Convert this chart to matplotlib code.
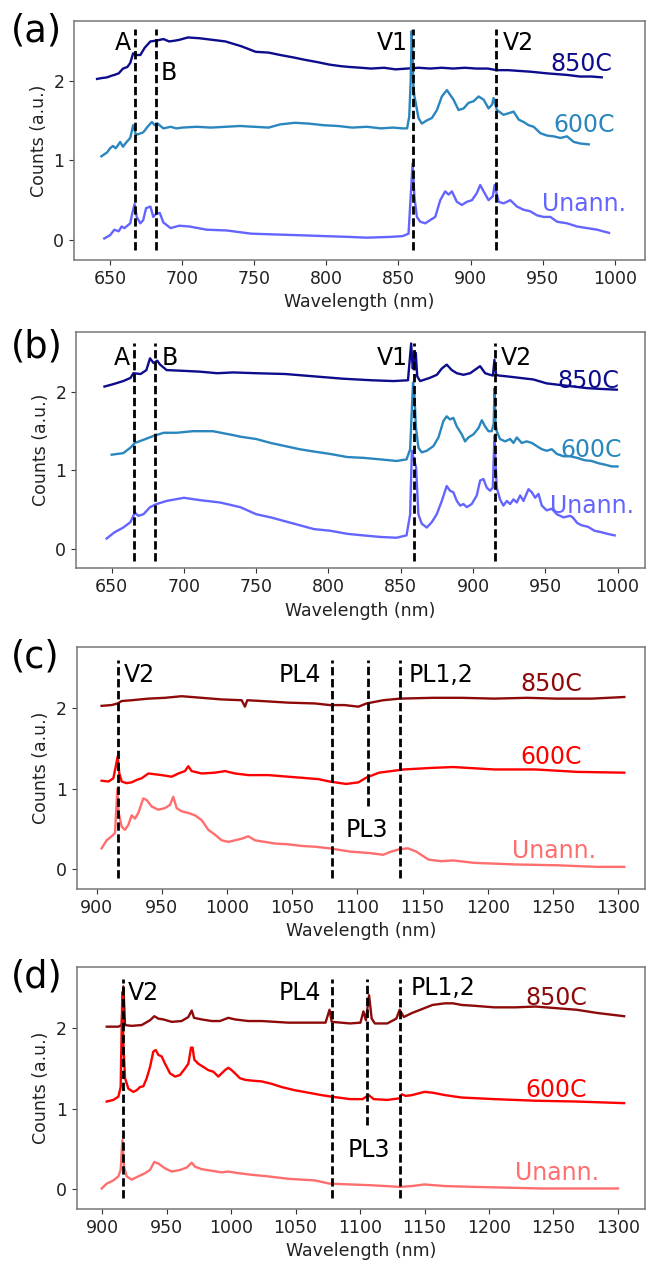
import matplotlib
matplotlib.use("Agg")
import matplotlib.pyplot as plt

# ---- panel (a) -------------------------------------------------------
a_850_x = [641, 644, 648, 651, 653, 656, 659, 662, 664, 666,
           668, 671, 674, 678, 682, 687, 691, 695, 698, 704,
           712, 721, 730, 741, 751, 760, 768, 777, 785, 794,
           802, 810, 816, 824, 831, 840, 848, 856, 864, 872,
           880, 888, 896, 904, 912, 918, 926, 934, 942, 953,
           960, 967, 976, 984, 991]
a_850_y = [2.02, 2.03, 2.04, 2.06, 2.07, 2.09, 2.15, 2.17, 2.22, 2.34,
           2.32, 2.32, 2.41, 2.49, 2.50, 2.52, 2.49, 2.50, 2.51, 2.54,
           2.53, 2.51, 2.49, 2.43, 2.36, 2.35, 2.32, 2.29, 2.26, 2.23,
           2.20, 2.18, 2.17, 2.16, 2.15, 2.16, 2.14, 2.15, 2.16, 2.15,
           2.16, 2.15, 2.16, 2.15, 2.15, 2.13, 2.13, 2.12, 2.11, 2.09,
           2.08, 2.07, 2.05, 2.05, 2.04]
a_600_x = [644, 648, 650, 652, 654, 657, 659, 661, 664, 666,
           668, 670, 673, 676, 679, 681, 683, 687, 692, 696,
           700, 710, 720, 730, 740, 750, 760, 768, 778, 788,
           798, 808, 818, 828, 838, 846, 853, 856, 857.5, 858.5,
           859.2, 860, 860.4, 861.1, 862, 863.9, 866.2, 869.7, 873.2, 876.7,
           880.1, 883.6, 885.9, 888.2, 891.7, 895.2, 898.6, 902.1, 905.6, 909.1,
           912.5, 915, 916, 918.3, 922.9, 926.4, 929.9, 933.4, 936.8, 940.3,
           943.8, 948.4, 953, 957.7, 962.3, 966.9, 971.6, 976.2, 982]
a_600_y = [1.05, 1.10, 1.15, 1.18, 1.15, 1.23, 1.17, 1.22, 1.28, 1.44,
           1.32, 1.33, 1.35, 1.42, 1.48, 1.44, 1.46, 1.40, 1.42, 1.40,
           1.41, 1.42, 1.41, 1.42, 1.43, 1.42, 1.41, 1.45, 1.47, 1.46,
           1.44, 1.43, 1.41, 1.42, 1.40, 1.41, 1.40, 1.40, 1.55, 2.00,
           2.62, 2.20, 1.92, 1.80, 1.72, 1.53, 1.46, 1.50, 1.53, 1.63,
           1.80, 1.88, 1.82, 1.76, 1.63, 1.65, 1.72, 1.74, 1.80, 1.76,
           1.65, 1.70, 1.78, 1.63, 1.57, 1.59, 1.61, 1.51, 1.48, 1.44,
           1.42, 1.34, 1.31, 1.30, 1.28, 1.30, 1.23, 1.21, 1.20]
a_un_x = [646, 650, 653, 656, 658, 660, 664, 665, 667, 668.5,
          671, 673, 675, 678, 680, 682, 684.5, 687, 692, 698,
          705, 717, 731, 748, 765, 782, 798, 815, 828, 845,
          853, 857, 858.1, 859.8, 861.1, 862.8, 865.1, 868.6, 872, 875.5,
          879, 882.4, 884.8, 887.1, 890.5, 894, 897.5, 901, 904.4, 906.7,
          909.1, 912.5, 915.5, 916.7, 919.5, 922.9, 927.6, 932.2, 936.8, 941.5,
          946.1, 950.7, 955.4, 960, 966.9, 973.9, 980.8, 987.8, 996]
a_un_y = [0.02, 0.06, 0.13, 0.11, 0.17, 0.15, 0.21, 0.30, 0.45, 0.29,
          0.21, 0.25, 0.40, 0.42, 0.29, 0.33, 0.34, 0.22, 0.15, 0.18,
          0.17, 0.13, 0.12, 0.08, 0.07, 0.06, 0.05, 0.04, 0.03, 0.04,
          0.05, 0.08, 0.42, 0.96, 0.54, 0.29, 0.23, 0.21, 0.25, 0.29,
          0.50, 0.61, 0.57, 0.61, 0.48, 0.44, 0.48, 0.50, 0.59, 0.69,
          0.61, 0.50, 0.55, 0.69, 0.48, 0.46, 0.50, 0.42, 0.38, 0.36,
          0.31, 0.29, 0.29, 0.23, 0.21, 0.17, 0.15, 0.13, 0.09]
a_lines = [667.6, 682.2, 860.4, 917.6]
a_tags = ["A", "B", "V1", "V2"]
a_tag_x = [659, 691, 846, 933]
a_tag_y = [2.38, 2.01, 2.38, 2.38]
a_name_x = [977, 979, 979]
a_name_y = [2.12, 1.36, 0.37]

# ---- panel (b) -------------------------------------------------------
b_850_x = [645, 651, 658, 663, 665, 670, 674, 676.5, 679, 681.5,
           683.5, 688, 700, 711, 723, 734, 750, 770, 790, 810,
           830, 845, 855, 857.2, 858.3, 859.3, 860.4, 861.4, 863.4, 870,
           875, 878.4, 881.8, 885.3, 888.8, 893.4, 898, 902.6, 904.9, 908.4,
           911.8, 913.8, 914.8, 916, 918, 923.4, 932.6, 941.8, 951, 960.3,
           969.5, 978.7, 988, 999.5]
b_850_y = [2.07, 2.10, 2.14, 2.18, 2.24, 2.23, 2.28, 2.43, 2.37, 2.40,
           2.35, 2.28, 2.27, 2.26, 2.24, 2.25, 2.24, 2.23, 2.20, 2.17,
           2.15, 2.14, 2.15, 2.62, 2.30, 2.40, 2.50, 2.20, 2.14, 2.18,
           2.22, 2.30, 2.35, 2.28, 2.24, 2.22, 2.24, 2.30, 2.33, 2.24,
           2.22, 2.21, 2.41, 2.22, 2.21, 2.20, 2.18, 2.16, 2.11, 2.09,
           2.07, 2.05, 2.04, 2.03]
b_600_x = [650, 658, 663, 666, 672, 679, 686, 695, 706, 720,
           734, 739, 750, 760, 770, 780, 790, 801, 813, 824,
           836, 847, 854, 856.5, 857.5, 858.5, 859.5, 860.5, 862.2, 864.5,
           868, 872.6, 876.1, 879.5, 881.8, 884.1, 886.4, 888.8, 892.2, 894.5,
           896.8, 900.3, 903.8, 906.1, 908.4, 910.7, 913, 914.3, 914.9, 915.6,
           916.4, 918.7, 922.2, 925.7, 928, 930.3, 933.7, 937.2, 940.7, 944.1,
           947.6, 951, 954.5, 958, 962.6, 967.2, 972, 977, 982, 987,
           992, 996, 1000]
b_600_y = [1.20, 1.22, 1.29, 1.35, 1.39, 1.44, 1.48, 1.48, 1.50, 1.50,
           1.45, 1.43, 1.40, 1.35, 1.31, 1.27, 1.24, 1.21, 1.17, 1.16,
           1.14, 1.12, 1.14, 1.27, 1.70, 2.12, 1.95, 1.55, 1.29, 1.23,
           1.25, 1.31, 1.42, 1.63, 1.69, 1.65, 1.67, 1.56, 1.46, 1.37,
           1.42, 1.46, 1.54, 1.64, 1.56, 1.50, 1.50, 1.60, 2.05, 1.60,
           1.50, 1.40, 1.37, 1.40, 1.35, 1.42, 1.35, 1.37, 1.35, 1.31,
           1.27, 1.25, 1.27, 1.21, 1.18, 1.18, 1.16, 1.13, 1.12, 1.09,
           1.07, 1.05, 1.05]
b_un_x = [646.5, 652, 658, 663, 666, 668.4, 672, 676.5, 681, 688,
          700, 711, 725, 739, 750, 760, 770, 780, 790, 801,
          813, 824, 836, 847, 854, 856.5, 857.7, 859, 860.6, 862.2,
          864.5, 868, 871.5, 874.9, 878.4, 881.8, 884.1, 886.4, 888.8, 891.1,
          893.4, 895.7, 899.1, 902.6, 904.9, 907.2, 909.5, 911.8, 913.7, 914.8,
          916.4, 918.7, 921, 923.4, 925.7, 928, 930.3, 932.6, 934.9, 938.4,
          940.7, 943, 945.3, 947.6, 951, 954.5, 958, 962.6, 967.2, 969,
          972, 975, 979.5, 984, 989, 993, 998]
b_un_y = [0.13, 0.21, 0.27, 0.34, 0.46, 0.42, 0.44, 0.53, 0.57, 0.61,
          0.65, 0.62, 0.59, 0.53, 0.44, 0.40, 0.35, 0.30, 0.25, 0.23,
          0.19, 0.17, 0.15, 0.14, 0.17, 0.44, 1.25, 1.15, 1.04, 0.44,
          0.32, 0.27, 0.34, 0.44, 0.61, 0.80, 0.74, 0.72, 0.61, 0.55,
          0.57, 0.53, 0.57, 0.68, 0.87, 0.89, 0.78, 0.74, 0.78, 1.44,
          0.78, 0.63, 0.55, 0.61, 0.57, 0.63, 0.59, 0.68, 0.61, 0.76,
          0.72, 0.65, 0.70, 0.55, 0.49, 0.51, 0.44, 0.40, 0.42, 0.40,
          0.33, 0.30, 0.28, 0.23, 0.21, 0.19, 0.17]
b_lines = [665.7, 680.0, 859.2, 915.3]
b_tags = ["A", "B", "V1", "V2"]
b_tag_x = [657, 690, 844.5, 929.7]
b_tag_y = [2.35, 2.35, 2.35, 2.35]
b_name_x = [980, 982, 982]
b_name_y = [2.05, 1.17, 0.46]

# ---- panel (c) -------------------------------------------------------
c_850_x = [903.7, 911.4, 916, 919.1, 926.8, 939.6, 952.3, 965.1, 980.5, 995.8,
           1011.2, 1013.7, 1015.5, 1026.5, 1047, 1067.5, 1078.7, 1090, 1100.8, 1107,
           1119.8, 1132.5, 1157.7, 1180, 1205, 1230, 1252.6, 1280, 1304.8]
c_850_y = [2.03, 2.04, 2.06, 2.09, 2.10, 2.12, 2.13, 2.15, 2.13, 2.11,
           2.10, 2.02, 2.10, 2.09, 2.07, 2.06, 2.04, 2.04, 2.02, 2.06,
           2.10, 2.12, 2.13, 2.13, 2.12, 2.13, 2.12, 2.12, 2.14]
c_600_x = [903.7, 908.9, 912.7, 914.5, 916, 917.3, 919.1, 922.9, 926.8, 930.6,
           934.4, 939.6, 944.7, 949.8, 957.5, 962.6, 967.7, 970.2, 972.8, 980.5,
           990.7, 998.4, 1006.1, 1016.3, 1031.6, 1047, 1062.3, 1070, 1078.7, 1091.3,
           1100.8, 1107, 1116.6, 1126.1, 1135.6, 1157.7, 1173.5, 1205, 1236.8, 1268.4,
           1304.8]
c_600_y = [1.10, 1.09, 1.13, 1.27, 1.40, 1.19, 1.09, 1.07, 1.08, 1.11,
           1.13, 1.19, 1.18, 1.17, 1.15, 1.19, 1.22, 1.28, 1.22, 1.19,
           1.20, 1.22, 1.19, 1.17, 1.17, 1.15, 1.13, 1.12, 1.09, 1.06,
           1.08, 1.14, 1.20, 1.22, 1.24, 1.26, 1.27, 1.24, 1.24, 1.21,
           1.20]
c_un_x = [903.7, 907.6, 911.4, 914, 915.8, 916.8, 919.1, 921.6, 924.2, 926.8,
          929.3, 931.9, 935.7, 938.3, 942.1, 947.2, 952.3, 956.2, 958.7, 961.3,
          965.1, 970.2, 975.4, 980.5, 985.6, 990.7, 995.8, 1001, 1006.1, 1011.2,
          1016.3, 1021.4, 1029, 1036.8, 1047, 1057.2, 1067.5, 1078.7, 1094.3, 1110.3,
          1119.8, 1126, 1132.5, 1138.8, 1145.1, 1154.6, 1164.1, 1173.5, 1189.4, 1221,
          1252.6, 1284.2, 1304.8]
c_un_y = [0.26, 0.36, 0.41, 0.45, 1.00, 0.70, 0.53, 0.49, 0.55, 0.67,
          0.63, 0.70, 0.88, 0.86, 0.78, 0.74, 0.76, 0.80, 0.90, 0.76,
          0.72, 0.70, 0.67, 0.61, 0.49, 0.43, 0.36, 0.34, 0.36, 0.38,
          0.41, 0.36, 0.34, 0.32, 0.31, 0.29, 0.28, 0.26, 0.22, 0.20,
          0.18, 0.22, 0.25, 0.26, 0.22, 0.12, 0.10, 0.11, 0.08, 0.06,
          0.05, 0.03, 0.03]
c_lines = [916.0, 1080.3, 1132.5]
c_pl3 = 1107.8
c_tags = ["V2", "PL4", "PL3", "PL1,2"]
c_tag_x = [932.5, 1056, 1107.5, 1164.5]
c_tag_y = [2.33, 2.33, 0.40, 2.33]
c_name_x = [1249, 1249, 1251]
c_name_y = [2.21, 1.31, 0.14]

# ---- panel (d) -------------------------------------------------------
d_850_x = [903.5, 912.5, 915.1, 916.4, 917.7, 922.8, 930.6, 937.1, 940.4, 943.5,
           947.4, 953.9, 961.6, 966.8, 969.4, 971.2, 977.1, 984.9, 991.3, 997.8,
           1003, 1013.3, 1023.7, 1034, 1044.3, 1059.9, 1073.2, 1076.3, 1078, 1092.3,
           1100.3, 1102.6, 1104.5, 1107, 1109, 1111.5, 1121.1, 1128.1, 1130.7, 1133.9,
           1140.3, 1149.9, 1156.2, 1165.8, 1172.2, 1178.6, 1188.2, 1204.1, 1220.1, 1236.1,
           1252.1, 1268, 1284, 1304.8]
d_850_y = [2.02, 2.02, 2.04, 2.52, 2.04, 2.03, 2.04, 2.10, 2.15, 2.12,
           2.11, 2.08, 2.09, 2.14, 2.22, 2.13, 2.11, 2.09, 2.09, 2.13,
           2.11, 2.09, 2.09, 2.08, 2.07, 2.07, 2.07, 2.23, 2.08, 2.06,
           2.07, 2.21, 2.10, 2.41, 2.12, 2.06, 2.06, 2.12, 2.23, 2.14,
           2.19, 2.25, 2.29, 2.31, 2.31, 2.29, 2.28, 2.26, 2.26, 2.27,
           2.25, 2.23, 2.19, 2.15]
d_600_x = [903.5, 908.6, 912.5, 914.3, 915.6, 916.4, 917.7, 920.3, 924.1, 926.7,
           929.3, 931.9, 934.5, 937.1, 939.6, 941.5, 943.5, 946.1, 948.7, 952.6,
           956.5, 960.3, 964.2, 966.8, 968.9, 970.1, 971.4, 974.5, 978.4, 982.3,
           986.2, 990.1, 992.6, 995.2, 997.8, 1000.4, 1003, 1006.8, 1010.7, 1015.9,
           1023.7, 1031.4, 1039.2, 1049.5, 1059.9, 1070, 1078, 1092.3, 1101.9, 1106.7,
           1110.6, 1121.1, 1130.7, 1132.3, 1135.4, 1140.3, 1149.9, 1156.2, 1165.8, 1178.6,
           1204.1, 1236.1, 1268, 1304.8]
d_600_y = [1.09, 1.11, 1.15, 1.27, 2.45, 1.80, 1.38, 1.25, 1.21, 1.23,
           1.27, 1.28, 1.38, 1.52, 1.71, 1.73, 1.67, 1.65, 1.56, 1.44,
           1.40, 1.42, 1.50, 1.56, 1.76, 1.76, 1.61, 1.56, 1.52, 1.48,
           1.46, 1.40, 1.44, 1.48, 1.51, 1.48, 1.44, 1.38, 1.36, 1.35,
           1.34, 1.31, 1.27, 1.23, 1.20, 1.17, 1.15, 1.12, 1.12, 1.17,
           1.12, 1.11, 1.13, 1.18, 1.16, 1.17, 1.21, 1.20, 1.17, 1.14,
           1.12, 1.10, 1.09, 1.07]
d_un_x = [899.6, 903.5, 908.6, 912.5, 914.3, 915.6, 916.9, 919, 922.8, 928,
          933.2, 937.1, 940.4, 943.5, 948.7, 953.9, 960.3, 965.5, 969.4, 972,
          977.1, 984.9, 992.6, 997.8, 1005.6, 1015.9, 1028.8, 1044.3, 1065, 1076.3,
          1108.6, 1130.7, 1140.3, 1149.9, 1165.8, 1188, 1240, 1300]
d_un_y = [0.01, 0.07, 0.11, 0.16, 0.24, 0.61, 0.28, 0.16, 0.12, 0.16,
          0.20, 0.24, 0.34, 0.32, 0.26, 0.22, 0.24, 0.27, 0.33, 0.28,
          0.25, 0.23, 0.21, 0.22, 0.20, 0.18, 0.16, 0.13, 0.11, 0.07,
          0.05, 0.03, 0.04, 0.06, 0.04, 0.03, 0.01, 0.01]
d_lines = [916.4, 1078.0, 1130.7]
d_pl3 = 1105.7
d_tags = ["V2", "PL4", "PL3", "PL1,2"]
d_tag_x = [932, 1053, 1106.7, 1164]
d_tag_y = [2.35, 2.35, 0.405, 2.41]
d_name_x = [1252, 1252, 1253]
d_name_y = [2.29, 1.15, 0.115]

names = ["850C", "600C", "Unann."]
blues = ["#0c0c8c", "#2a86be", "#6464ff"]
reds = ["#8e0a0a", "#ff0000", "#ff6e6e"]

W, H = 646, 1263
fig = plt.figure(figsize=(W / 100, H / 100), dpi=100)

dash = (0, (3, 1.3))


def make_ax(left, top, bottom, right=645):
    return fig.add_axes([left / W, 1 - bottom / H, (right - left) / W, (bottom - top) / H])


def style(ax, xlim, ylim, xticks):
    ax.set_xlim(*xlim)
    ax.set_ylim(*ylim)
    ax.set_xticks(xticks)
    ax.set_yticks([0, 1, 2])
    ax.tick_params(labelsize=12.5, colors="#333333", labelcolor="#222222")
    for sp in ax.spines.values():
        sp.set_color("#777777")
        sp.set_linewidth(1.1)
    ax.set_xlabel("Wavelength (nm)", fontsize=12.5, color="#222222")
    ax.set_ylabel("Counts (a.u.)", fontsize=12.5, color="#222222")


def draw(ax, xs, ys, cols, tags, tx, ty, nx, ny):
    for x, y, c in zip(xs, ys, cols):
        ax.plot(x, y, color=c, lw=1.7, solid_joinstyle="round")
    for t, x, y in zip(tags, tx, ty):
        ax.text(x, y, t, fontsize=17, ha="center", va="baseline", color="black")
    for t, x, y, c in zip(names, nx, ny, cols):
        ax.text(x, y, t, fontsize=17, ha="center", va="baseline", color=c)


# (a)
ax = make_ax(74, 20.7, 260)
draw(ax, [a_850_x, a_600_x, a_un_x], [a_850_y, a_600_y, a_un_y], blues,
     a_tags, a_tag_x, a_tag_y, a_name_x, a_name_y)
ax.vlines(a_lines, -0.13, 2.65, colors="black", linestyles=[dash], lw=2)
style(ax, (625, 1021), (-0.25, 2.75), range(650, 1001, 50))

# (b)
ax = make_ax(76, 331.7, 568.3)
draw(ax, [b_850_x, b_600_x, b_un_x], [b_850_y, b_600_y, b_un_y], blues,
     b_tags, b_tag_x, b_tag_y, b_name_x, b_name_y)
ax.vlines(b_lines, -0.16, 2.63, colors="black", linestyles=[dash], lw=2)
style(ax, (625.3, 1019), (-0.25, 2.77), range(650, 1001, 50))

# (c)
ax = make_ax(76.7, 646.7, 889)
draw(ax, [c_850_x, c_600_x, c_un_x], [c_850_y, c_600_y, c_un_y], reds,
     c_tags, c_tag_x, c_tag_y, c_name_x, c_name_y)
ax.vlines(c_lines, -0.11, 2.60, colors="black", linestyles=[dash], lw=2)
ax.vlines([c_pl3], 0.78, 2.60, colors="black", linestyles=[dash], lw=2)
style(ax, (884.6, 1320.7), (-0.245, 2.765), range(900, 1301, 50))

# (d)
ax = make_ax(76.7, 966.7, 1209)
draw(ax, [d_850_x, d_600_x, d_un_x], [d_850_y, d_600_y, d_un_y], reds,
     d_tags, d_tag_x, d_tag_y, d_name_x, d_name_y)
ax.vlines(d_lines, -0.11, 2.61, colors="black", linestyles=[dash], lw=2)
ax.vlines([d_pl3], 0.80, 2.61, colors="black", linestyles=[dash], lw=2)
style(ax, (880.2, 1321), (-0.245, 2.765), range(900, 1301, 50))

# panel letters
for lab, base in zip(["(a)", "(b)", "(c)", "(d)"], [42, 358, 668, 988]):
    fig.text(11 / W, 1 - base / H, lab, fontsize=26.5, ha="left", va="baseline")

fig.savefig("out.png", dpi=100)
